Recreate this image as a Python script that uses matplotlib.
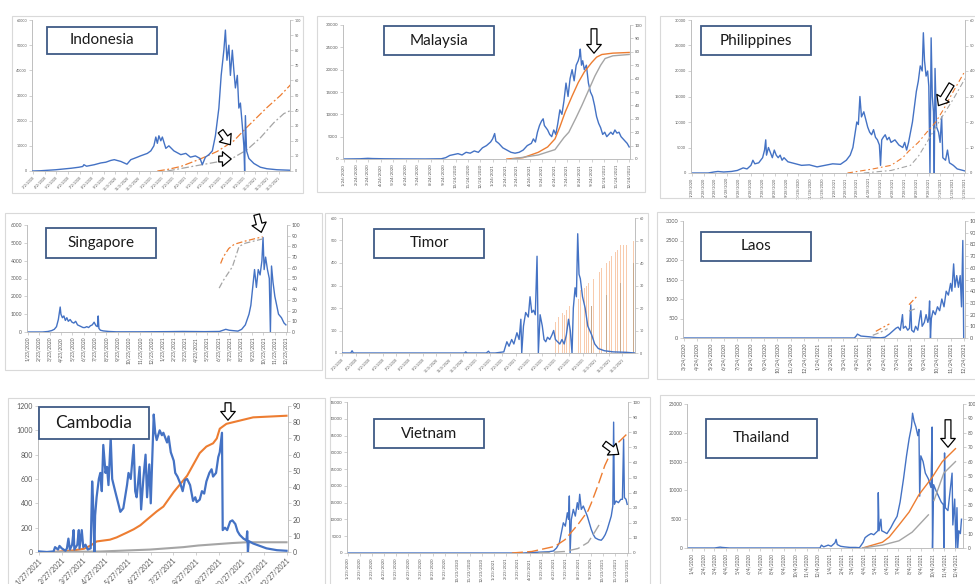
import numpy as np
import matplotlib
matplotlib.use('Agg')
import matplotlib.pyplot as plt
from matplotlib.patches import Rectangle, FancyArrowPatch
from matplotlib.ticker import FuncFormatter

plt.rcParams['font.family'] = ['Lato', 'DejaVu Sans']

nan = np.nan

# ---- data: (days since start, value); cases on left axis, vaccination % on right axis ----
idn_start = '2020-03-02'
idn_cases = [(0, 0), (20, 100), (40, 300), (60, 500), (80, 800), (100, 1100), (120, 1500), (130, 1800), (133, 2500),
             (140, 1900), (160, 2500), (177, 3200), (190, 3500), (203, 4200), (212, 4500), (229, 3800), (245, 2700),
             (255, 4500), (272, 5500), (280, 6000), (298, 7000), (307, 8000), (315, 10000), (320, 13500), (324, 11000),
             (328, 14000), (333, 12000), (337, 13500), (346, 9000), (354, 10000), (367, 8000), (385, 6500), (398, 7000),
             (410, 5500), (423, 6000), (435, 5000), (441, 2500), (449, 5500), (458, 6500), (467, 8000), (475, 14000),
             (484, 25000), (490, 38000), (497, 48000), (501, 56000), (505, 44000), (510, 50000), (514, 38000),
             (519, 48000), (523, 40000), (527, 33000), (532, 38000), (536, 25000), (540, 27000), (545, 18000),
             (549, 10000), (551, 0), (553, 22000), (556, 8000), (562, 5000), (575, 3000), (592, 1500), (609, 900),
             (635, 500), (670, 300)]
idn_dose1 = [(324, 0), (350, 1), (385, 3), (436, 8), (480, 13), (523, 20), (557, 29), (609, 42), (644, 50), (670, 57)]
idn_dose2 = [(350, 0), (393, 2), (436, 4), (480, 6), (523, 9), (557, 14), (592, 22), (627, 32), (653, 38), (670, 40)]

mys_start = '2020-01-24'
mys_cases = [(0, 0), (40, 50), (59, 150), (70, 100), (100, 50), (150, 20), (200, 10), (239, 50), (250, 300), (260, 800),
             (270, 1000), (280, 1200), (290, 900), (300, 1500), (310, 1300), (320, 1800), (330, 1500), (340, 2500),
             (350, 3000), (360, 3800), (365, 4500), (370, 5700), (373, 4000), (380, 3500), (390, 2500), (400, 2000),
             (410, 1500), (420, 1300), (430, 1500), (440, 2000), (450, 3000), (460, 3500), (465, 4500), (470, 3800),
             (475, 6000), (480, 7500), (485, 8500), (489, 9000), (492, 7500), (500, 6500), (505, 5500), (510, 5000),
             (515, 6500), (520, 5500), (525, 8000), (530, 11000), (535, 10000), (540, 13000), (545, 17000),
             (550, 14000), (555, 18000), (560, 20000), (565, 17500), (570, 21000), (575, 22000), (578, 23000),
             (580, 24600), (583, 21000), (586, 22000), (590, 20000), (595, 21000), (600, 17000), (605, 15000),
             (610, 14000), (615, 12000), (620, 9500), (625, 8000), (630, 7000), (635, 5500), (640, 6000), (645, 5000),
             (650, 5500), (655, 6000), (660, 5500), (665, 6500), (670, 5800), (675, 6000), (680, 5000), (685, 4500),
             (690, 4000), (695, 3500), (700, 2700)]
mys_dose1 = [(400, 0), (440, 1), (477, 5), (500, 9), (518, 15), (530, 24), (543, 35), (560, 47), (575, 57), (590, 65),
             (608, 72), (620, 76), (633, 78), (660, 79), (700, 79.5)]
mys_dose2 = [(413, 0), (477, 3), (518, 7), (540, 16), (552, 20), (570, 31), (584, 40), (600, 51), (616, 62), (630, 70),
             (641, 75), (660, 77), (700, 78)]

phl_start = '2020-01-30'
phl_cases = [(0, 0), (40, 0), (55, 200), (65, 300), (80, 200), (100, 300), (115, 500), (130, 1000), (140, 800),
             (150, 1500), (155, 2500), (160, 1800), (170, 2000), (180, 3000), (185, 4500), (188, 6500), (190, 3500),
             (195, 5000), (200, 4000), (205, 3000), (210, 4500), (215, 3500), (220, 3000), (225, 3500), (230, 2500),
             (235, 3000), (245, 2200), (255, 2000), (265, 1800), (280, 1500), (300, 1600), (320, 1200), (340, 1500),
             (360, 1800), (380, 1700), (395, 2500), (405, 3500), (412, 5000), (418, 8000), (422, 10000), (426, 9500),
             (430, 15000), (434, 11000), (440, 12000), (445, 10500), (450, 9000), (455, 8000), (460, 7500),
             (465, 8500), (470, 7000), (475, 6500), (480, 5500), (483, 1500), (486, 6500), (490, 7000), (495, 7500),
             (500, 6500), (505, 7000), (510, 6000), (520, 6500), (530, 5500), (540, 5000), (545, 6000), (550, 4500),
             (555, 6000), (560, 8000), (565, 10000), (570, 13000), (575, 16000), (580, 18000), (585, 21000),
             (590, 20000), (593, 27500), (596, 22000), (600, 19000), (604, 20000), (607, 17000), (610, 0),
             (613, 26500), (616, 15000), (619, 12000), (621, 0), (623, 20500), (627, 9000), (632, 8000), (636, 6000),
             (640, 11000), (643, 3000), (650, 2500), (655, 4500), (660, 2000), (670, 1500), (680, 800), (700, 400)]
phl_dose1 = [(398, 0), (460, 1.5), (510, 3), (540, 6), (555, 8.5), (580, 12), (602, 16), (625, 20), (645, 25),
             (670, 32), (700, 40)]
phl_dose2 = [(440, 0), (510, 1), (560, 3), (580, 6.5), (602, 12), (625, 18), (645, 23), (670, 29), (700, 37)]

sgp_start = '2020-01-23'
sgp_cases = [(0, 0), (40, 0), (55, 30), (65, 80), (72, 150), (78, 300), (83, 700), (88, 1400), (90, 1000), (94, 800),
             (98, 900), (102, 650), (106, 800), (110, 600), (115, 700), (120, 550), (125, 500), (130, 600), (135, 400),
             (140, 350), (145, 300), (150, 250), (155, 250), (160, 300), (165, 250), (170, 350), (175, 400),
             (180, 550), (185, 350), (189, 300), (191, 900), (193, 200), (197, 100), (205, 60), (220, 30), (240, 10),
             (300, 10), (380, 20), (420, 30), (480, 20), (520, 30), (537, 150), (546, 100), (555, 80), (570, 50),
             (580, 150), (590, 400), (600, 1000), (605, 1500), (610, 2500), (615, 3500), (620, 2500), (625, 3500),
             (630, 3200), (635, 4000), (638, 5300), (641, 3500), (645, 4200), (650, 3500), (655, 3000), (658, 0),
             (661, 3700), (665, 2800), (670, 2000), (675, 1500), (680, 1000), (688, 800), (695, 500), (700, 400)]
sgp_dose1 = [(523, 64), (530, 70), (545, 78), (560, 82), (590, 85), (637, 89)]
sgp_dose2 = [(519, 41), (530, 48), (555, 61), (573, 80), (590, 83), (637, 87)]

tls_start = '2020-03-01'
tls_cases = [(0, 0), (20, 0), (23, 10), (26, 0), (280, 0), (283, 5), (286, 0), (330, 0), (335, 8), (338, 0), (350, 0),
             (370, 5), (377, 50), (382, 30), (388, 60), (393, 40), (400, 90), (405, 60), (409, 150), (411, 0),
             (415, 120), (420, 180), (426, 160), (430, 250), (434, 180), (438, 190), (442, 170), (446, 430), (449, 0),
             (453, 170), (458, 120), (462, 60), (466, 50), (470, 70), (475, 60), (480, 80), (484, 100), (488, 60),
             (493, 50), (498, 40), (503, 60), (508, 40), (513, 80), (518, 150), (522, 100), (526, 0), (529, 200),
             (533, 290), (536, 250), (539, 530), (542, 350), (545, 330), (550, 250), (556, 200), (562, 120), (571, 80),
             (578, 40), (586, 20), (600, 10), (620, 5), (650, 3), (670, 0)]
tls_dose1 = [(480, 15), (488, 14), (495, 16), (504, 18), (509, 17), (514, 19), (520, 21), (526, 22), (535, 25),
             (540, 24), (545, 28), (554, 29), (559, 30), (564, 31), (575, 33), (583, 35), (589, 36), (594, 38),
             (605, 40), (611, 41), (617, 43), (625, 45), (630, 46), (636, 48), (644, 48), (651, 48), (666, 50)]
tls_dose2 = [(571, 21), (605, 26), (636, 31), (666, 40)]

lao_start = '2020-03-24'
lao_cases = [(0, 0), (390, 0), (394, 50), (397, 100), (400, 80), (405, 50), (415, 40), (425, 30), (440, 10), (450, 5),
             (460, 20), (465, 60), (470, 100), (475, 150), (480, 200), (485, 250), (490, 280), (495, 200), (500, 600),
             (502, 250), (507, 300), (512, 200), (516, 250), (519, 850), (521, 200), (526, 150), (530, 300),
             (535, 200), (542, 700), (545, 300), (550, 400), (554, 600), (558, 400), (560, 500), (562, 950), (564, 0),
             (566, 500), (570, 700), (575, 600), (580, 800), (585, 700), (590, 1000), (595, 800), (600, 1200),
             (605, 1100), (610, 1400), (613, 1200), (617, 1900), (620, 1300), (624, 1600), (628, 1300), (632, 1600),
             (635, 800), (638, 2500), (640, 0)]
lao_dose1 = [(439, 5.7), (455, 9), (470, 12), (471, nan), (515, 28.5), (534, 36)]
lao_dose2 = [(432, 2.3), (450, 5), (466, 8), (467, nan), (515, 23), (534, 25.6)]

khm_start = '2021-01-27'
khm_cases = [(0, 5), (11, 0), (20, 5), (22, 40), (26, 20), (28, 50), (31, 30), (36, 10), (38, 30), (40, 110), (42, 20),
             (45, 60), (47, 180), (48, 20), (52, 60), (54, 180), (55, 30), (58, 180), (60, 40), (63, 60), (66, 20),
             (70, 30), (72, 580), (73, 450), (75, 0), (76, 300), (78, 450), (81, 600), (83, 650), (85, 500), (87, 880),
             (90, 650), (92, 700), (94, 550), (97, 940), (99, 600), (103, 500), (108, 380), (110, 330), (114, 360),
             (119, 550), (121, 650), (124, 600), (128, 880), (130, 500), (132, 450), (136, 700), (138, 350),
             (141, 600), (144, 800), (146, 450), (149, 720), (151, 400), (155, 1130), (157, 980), (159, 920),
             (163, 1000), (166, 960), (168, 980), (173, 900), (175, 950), (178, 820), (182, 750), (184, 650),
             (187, 620), (191, 560), (194, 500), (197, 590), (200, 600), (204, 550), (208, 420), (211, 450),
             (213, 410), (217, 430), (220, 500), (223, 480), (226, 580), (230, 650), (233, 680), (235, 620),
             (239, 650), (242, 780), (244, 820), (247, 980), (248, 180), (251, 200), (254, 180), (258, 250),
             (261, 260), (265, 230), (268, 170), (271, 140), (276, 110), (280, 95), (281, 170), (282, 0), (283, 90),
             (289, 70), (298, 50), (307, 30), (321, 15), (334, 10)]
khm_dose1 = [(20, 0), (47, 1), (61, 2), (70, 4), (78, 6.5), (96, 7.6), (105, 9), (119, 12), (128, 14), (137, 16.5),
             (146, 20), (159, 25), (168, 28), (182, 37), (200, 47), (217, 61), (226, 65), (235, 67), (240, 70),
             (244, 76), (253, 79), (271, 81), (280, 82), (289, 83), (334, 84)]
khm_dose2 = [(20, 0), (83, 0.3), (150, 1.5), (195, 3), (215, 4), (260, 5.5), (280, 6), (334, 6)]

vnm_start = '2020-01-23'
vnm_cases = [(0, 0), (440, 0), (453, 100), (470, 200), (490, 300), (505, 400), (515, 600), (523, 1500), (530, 3000),
             (535, 6000), (540, 9000), (545, 8000), (550, 12000), (553, 10000), (555, 17000), (557, 0), (560, 10000),
             (565, 13000), (570, 11000), (575, 15000), (578, 13000), (581, 17500), (585, 13000), (590, 14000),
             (595, 12500), (600, 11000), (605, 9000), (610, 7000), (615, 5500), (620, 4500), (628, 4000),
             (635, 3800), (640, 4500), (645, 5500), (650, 7000), (655, 9000), (660, 11000), (664, 14000),
             (666, 39000), (668, 14500), (672, 15500), (678, 15000), (684, 16000), (688, 16000), (691, 34000),
             (693, 16500), (697, 16000), (700, 14500)]
vnm_dose1 = [(411, 0), (461, 1), (519, 4.4), (544, 8.8), (577, 19), (602, 28), (610, 33), (627, 45), (644, 58),
             (660, 67), (677, 73), (700, 79)]
vnm_dose2 = [(478, 0), (544, 1), (577, 3), (602, 7), (619, 14), (635, 21)]

tha_start = '2020-01-04'
tha_cases = [(-10, 0), (60, 0), (70, 100), (75, 150), (80, 100), (90, 50), (100, 0), (340, 0), (344, 500), (350, 200),
             (362, 500), (370, 300), (380, 900), (383, 1500), (386, 600), (395, 300), (405, 200), (420, 100),
             (435, 100), (445, 50), (455, 1000), (460, 1800), (468, 2200), (476, 2500), (483, 2300), (494, 3000),
             (495, 9600), (497, 3000), (502, 5000), (504, 3000), (510, 2800), (518, 2500), (528, 3500), (536, 4500),
             (545, 5500), (553, 8000), (562, 12000), (570, 16000), (577, 19000), (583, 21000), (586, 23400),
             (590, 22000), (595, 21000), (600, 19500), (603, 20600), (605, 9000), (608, 16000), (614, 15000),
             (620, 13000), (628, 12000), (635, 10500), (638, 21000), (639, 0), (642, 11000), (648, 10000),
             (655, 9000), (662, 8000), (668, 7500), (669, 0), (671, 16500), (673, 7000), (680, 6500), (691, 13000),
             (693, 4000), (698, 8500), (701, 0), (704, 7000), (706, 0), (709, 3000), (713, 2500), (716, 5000)]
tha_dose1 = [(453, 0), (506, 4), (524, 7.6), (550, 16), (577, 25), (603, 37), (638, 49), (665, 60), (700, 69)]
tha_dose2 = [(453, 0), (506, 2), (550, 5), (585, 11), (603, 16), (628, 23), (629, nan), (643, 33), (669, 52),
             (700, 60)]

# ---- styling / layout ----
W, H = 975, 584
BLUE, ORANGE, GREY = '#4472C4', '#ED7D31', '#A5A5A5'
AXIS = '#BFBFBF'


def frac(box):
    x0, y0, x1, y1 = box
    return [x0 / W, 1 - y1 / H, (x1 - x0) / W, (y1 - y0) / H]


def series(start, pairs):
    days, vals = zip(*pairs)
    x = np.datetime64(start) + np.array(days, dtype='timedelta64[D]')
    return x, np.array(vals, dtype=float)


def month_ticks(first, n):
    y, m, d = int(first[:4]), int(first[5:7]), int(first[8:10])
    ticks, labels = [], []
    for i in range(n):
        k = m - 1 + i
        yy, mm = y + k // 12, k % 12 + 1
        ticks.append(np.datetime64(f'{yy}-{mm:02d}-{d:02d}'))
        labels.append(f'{mm}/{d}/{yy}')
    return ticks, labels


def panel(fig, frame, box, tbox, title, tsize, xlim, first_tick, n_ticks, rot,
          ymax, ystep, rmax, rstep, fs):
    x0, y0, x1, y1 = frame
    fig.add_artist(Rectangle((x0 / W, 1 - y1 / H), (x1 - x0) / W, (y1 - y0) / H,
                             transform=fig.transFigure, fill=False, ec='#D9D9D9', lw=0.8))
    ax = fig.add_axes(frac(box))
    ax2 = ax.twinx()
    for a in (ax, ax2):
        a.patch.set_visible(False)
        a.spines['top'].set_visible(False)
        for s in ('left', 'right', 'bottom'):
            a.spines[s].set_color(AXIS)
            a.spines[s].set_linewidth(0.6)
        a.tick_params(length=2, width=0.5, color=AXIS, labelcolor='#595959', labelsize=fs, pad=1.5)
    ax.set_xlim(np.datetime64(xlim[0]), np.datetime64(xlim[1]))
    ax.set_ylim(0, ymax)
    ax.set_yticks(np.arange(0, ymax + 1, ystep))
    ax2.set_ylim(0, rmax)
    ax2.set_yticks(np.arange(0, rmax + 1, rstep))
    fmt = FuncFormatter(lambda v, p: f'{v:.0f}')
    ax.yaxis.set_major_formatter(fmt)
    ax2.yaxis.set_major_formatter(fmt)
    ticks, labels = month_ticks(first_tick, n_ticks)
    ax.set_xticks(ticks)
    if rot == 45:
        ax.set_xticklabels(labels, rotation=45, ha='right', rotation_mode='anchor', fontsize=fs)
    else:
        ax.set_xticklabels(labels, rotation=90, fontsize=fs)
    tx0, ty0, tx1, ty1 = tbox
    fig.add_artist(Rectangle((tx0 / W, 1 - ty1 / H), (tx1 - tx0) / W, (ty1 - ty0) / H,
                             transform=fig.transFigure, fc='white', ec='#3F5A86', lw=1.3, zorder=5))
    fig.text((tx0 + tx1) / 2 / W, 1 - (ty0 + ty1) / 2 / H, title, ha='center', va='center',
             fontsize=tsize, color='#1a1a1a', zorder=6)
    return ax, ax2


def arrow(fig, p0, p1):
    a = FancyArrowPatch((p0[0] / W, 1 - p0[1] / H), (p1[0] / W, 1 - p1[1] / H),
                        transform=fig.transFigure, mutation_scale=7,
                        arrowstyle='simple,head_length=0.9,head_width=1.5,tail_width=0.6',
                        fc='white', ec='black', lw=0.9, zorder=7)
    fig.add_artist(a)


def lines(ax, ax2, start, cases, d1, d2, lw=1.0, vlw=1.0, dash=None):
    ax.plot(*series(start, cases), color=BLUE, lw=lw, zorder=3)
    kw = {} if dash is None else {'dashes': dash}
    ax2.plot(*series(start, d1), color=ORANGE, lw=vlw, **kw)
    ax2.plot(*series(start, d2), color=GREY, lw=vlw, **kw)


fig = plt.figure(figsize=(W / 100, H / 100), dpi=100)

# Indonesia
ax, ax2 = panel(fig, (12, 16, 303, 193), (32, 20, 290, 171), (47, 27, 157, 54), 'Indonesia', 11,
                ('2020-02-29', '2021-12-31'), '2020-03-02', 22, 45, 60000, 10000, 100, 10, 2.6)
lines(ax, ax2, idn_start, idn_cases, idn_dose1, idn_dose2, vlw=0.9, dash=(6, 2, 1.5, 2))
ax2.set_zorder(ax.get_zorder() - 1)
arrow(fig, (219, 129), (232, 147))
arrow(fig, (216, 159), (234, 159))

# Malaysia
ax, ax2 = panel(fig, (317, 16, 645, 192), (343, 25, 630, 159), (384, 26, 494, 55), 'Malaysia', 11,
                ('2020-01-22', '2021-12-26'), '2020-01-24', 24, 90, 30000, 5000, 100, 10, 3.2)
lines(ax, ax2, mys_start, mys_cases, mys_dose1, mys_dose2)
arrow(fig, (594, 26), (594, 56))

# Philippines
ax, ax2 = panel(fig, (660, 16, 990, 198), (691, 20, 965, 173), (701, 26, 811, 55), 'Philippines', 11,
                ('2020-01-26', '2021-12-30'), '2020-01-28', 24, 90, 30000, 5000, 60, 10, 2.8)
lines(ax, ax2, phl_start, phl_cases, phl_dose1, phl_dose2, vlw=0.8, dash=(5, 2.5, 1.5, 2.5))
arrow(fig, (953, 82), (937, 108))

# Singapore
ax, ax2 = panel(fig, (5, 213, 322, 370), (27, 225, 287, 332), (46, 228, 156, 258), 'Singapore', 11,
                ('2020-01-21', '2021-12-26'), '2020-01-23', 24, 90, 6000, 1000, 100, 10, 3.6)
lines(ax, ax2, sgp_start, sgp_cases, sgp_dose1, sgp_dose2, vlw=0.9, dash=(5, 2, 1.5, 2))
arrow(fig, (256, 212), (262, 235))

# Timor
ax, ax2 = panel(fig, (325, 213, 648, 378), (342, 218, 635, 353), (374, 229, 484, 258), 'Timor', 11,
                ('2020-03-01', '2021-12-31'), '2020-03-02', 22, 45, 600, 100, 60, 10, 2.6)
ax.plot(*series(tls_start, tls_cases), color=BLUE, lw=1.0, zorder=3)
ax2.bar(*series(tls_start, tls_dose1), width=1.8, color='#F8CBAD')
ax2.bar(*series(tls_start, tls_dose2), width=1.8, color='#C9A98C')
ax2.set_zorder(ax.get_zorder() - 1)

# Laos
ax, ax2 = panel(fig, (657, 212, 990, 379), (683, 221, 965, 338), (701, 232, 811, 261), 'Laos', 11,
                ('2020-03-22', '2021-12-27'), '2020-03-24', 22, 90, 3000, 500, 100, 10, 4.0)
lines(ax, ax2, lao_start, lao_cases, lao_dose1, lao_dose2, vlw=0.9, dash=(5, 2, 1.5, 2))

# Cambodia
ax, ax2 = panel(fig, (8, 398, 325, 590), (38, 406, 288, 552), (39, 407, 149, 439), 'Cambodia', 12.5,
                ('2021-01-26', '2021-12-29'), '2021-01-27', 12, 45, 1200, 200, 90, 10, 5.0)
lines(ax, ax2, khm_start, khm_cases, khm_dose1, khm_dose2, lw=1.6, vlw=1.5)
ax2.set_zorder(ax.get_zorder() - 1)
arrow(fig, (228, 400), (228, 423))

# Vietnam
ax, ax2 = panel(fig, (330, 397, 650, 590), (347, 402, 628, 553), (374, 419, 484, 448), 'Vietnam', 11,
                ('2020-01-21', '2021-12-25'), '2020-01-23', 24, 90, 45000, 5000, 100, 10, 3.2)
lines(ax, ax2, vnm_start, vnm_cases, vnm_dose1, vnm_dose2, vlw=1.0, dash=(8, 3))
arrow(fig, (602, 442), (621, 456))

# Thailand
ax, ax2 = panel(fig, (660, 395, 990, 590), (687, 404, 963, 548), (706, 419, 817, 458), 'Thailand', 11,
                ('2019-12-22', '2021-12-24'), '2020-01-04', 24, 90, 25000, 5000, 100, 10, 3.4)
lines(ax, ax2, tha_start, tha_cases, tha_dose1, tha_dose2)
arrow(fig, (948, 417), (948, 450))

fig.savefig('out.png', dpi=100, facecolor='white')
